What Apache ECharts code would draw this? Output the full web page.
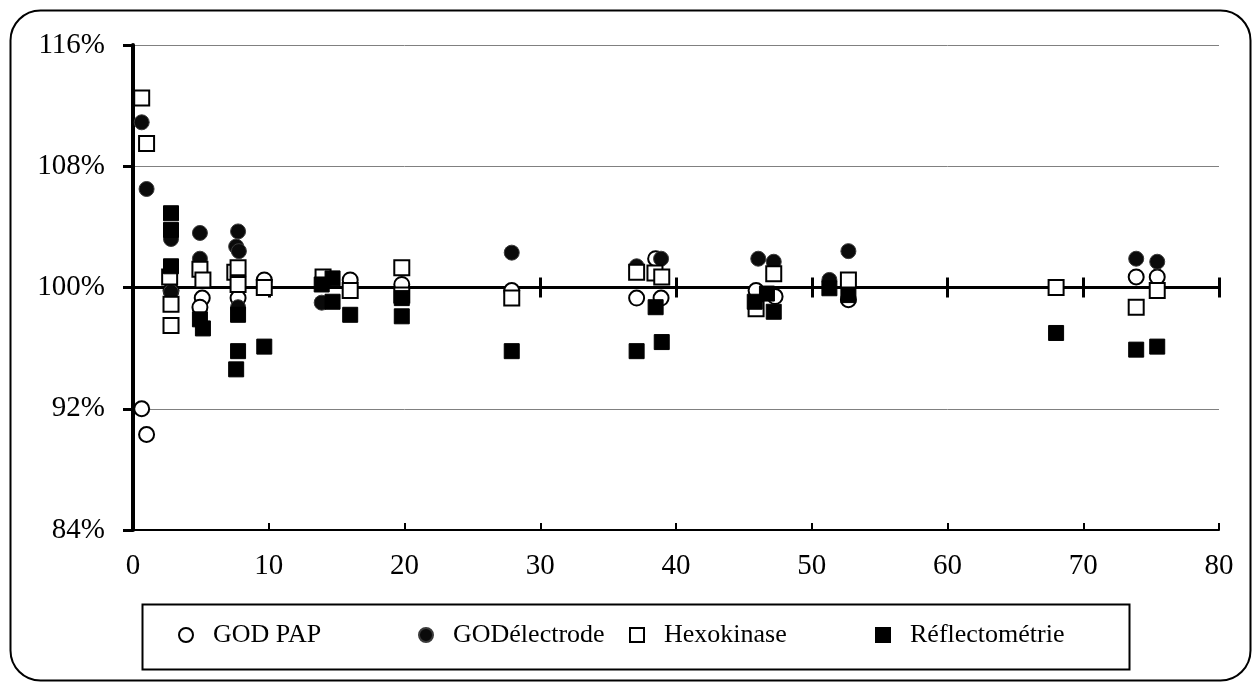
<!DOCTYPE html>
<html>
<head>
<meta charset="utf-8">
<script src="https://cdn.jsdelivr.net/npm/echarts@6/dist/echarts.min.js"></script>
<style>
  html, body { margin: 0; padding: 0; background: #fff; }
  #chart { width: 1257px; height: 687px; }
</style>
</head>
<body>
<div id="chart"></div>
<script>
// values: [x, ratio in %]
const godPap = [
  [0.64, 92.0], [1.0, 90.3], [2.8, 99.8], [5.1, 99.3], [4.93, 98.7],
  [7.74, 99.3], [9.67, 100.5], [16.0, 100.5], [19.8, 100.2], [27.9, 99.8],
  [37.1, 99.3], [38.5, 101.9], [38.9, 99.3], [45.9, 99.8], [47.3, 99.4],
  [52.7, 99.2], [73.9, 100.7], [75.45, 100.7]
];
const godElectrode = [
  [0.64, 110.9], [1.0, 106.5], [2.8, 103.2], [2.8, 99.7], [4.93, 103.6],
  [4.93, 101.9], [7.74, 103.7], [7.6, 102.7], [7.8, 102.4], [7.74, 98.7],
  [13.9, 99.0], [27.9, 102.3], [37.1, 101.4], [38.9, 101.9], [46.06, 101.9],
  [47.2, 101.7], [51.3, 100.5], [52.7, 102.4], [73.9, 101.9], [75.45, 101.7]
];
const hexokinase = [
  [0.64, 112.5], [1.0, 109.5], [2.7, 100.7], [2.8, 98.9], [2.8, 97.5],
  [4.93, 101.2], [5.15, 100.5], [7.5, 101.0], [7.74, 101.3], [7.74, 100.2],
  [9.67, 100.0], [14.0, 100.7], [16.0, 99.8], [19.8, 101.3], [19.8, 99.5],
  [27.9, 99.3], [37.1, 101.0], [38.45, 100.96], [38.95, 100.7], [45.9, 98.6],
  [47.2, 100.9], [52.7, 100.5], [68.0, 100.0], [73.9, 98.7], [75.45, 99.8]
];
const reflectometrie = [
  [2.8, 104.9], [2.8, 103.8], [2.8, 101.4], [4.93, 97.9], [5.15, 97.3],
  [7.74, 98.2], [7.74, 95.8], [7.6, 94.6], [9.67, 96.1], [14.7, 100.6],
  [13.9, 100.2], [14.7, 99.06], [16.0, 98.2], [19.8, 99.3], [19.8, 98.1],
  [27.9, 95.8], [37.1, 95.8], [38.5, 98.7], [38.95, 96.4], [45.8, 99.06],
  [46.7, 99.6], [47.2, 98.4], [51.3, 99.95], [52.7, 99.5], [68.0, 97.0],
  [73.9, 95.9], [75.45, 96.1]
];
const seriesNames = ['GOD PAP', 'GODélectrode', 'Hexokinase', 'Réflectométrie'];
const yTicks = [84, 92, 100, 108, 116];
const xTicks = [0, 10, 20, 30, 40, 50, 60, 70, 80];

// the x axis crosses at 100 %, so the y scale is drawn as offset from 100
const base = 100;
const shift = arr => arr.map(p => [p[0], p[1] - base]);

const font = 'Liberation Serif';
const square = 'path://M0,0L10,0L10,10L0,10Z';
const legendIcons = ['circle', 'circle', square, square];
// left edge of each legend entry, as in the original layout
const legendLeft = [178, 418, 629, 875];

const chart = echarts.init(document.getElementById('chart'));

const yCommon = {
  type: 'value',
  min: yTicks[0] - base,
  max: yTicks[yTicks.length - 1] - base,
  interval: yTicks[1] - yTicks[0]
};
const xCommon = {
  type: 'value',
  min: xTicks[0],
  max: xTicks[xTicks.length - 1],
  interval: xTicks[1] - xTicks[0]
};

// one legend per entry so each one can be placed on its own column
const legends = seriesNames.map((name, i) => ({
  left: legendLeft[i], top: 622,
  padding: 0,
  itemWidth: 14,
  itemHeight: 14,
  textStyle: {
    color: '#000', fontFamily: font, fontSize: 26,
    rich: { t: { padding: [0, 0, 0, 15], fontFamily: font, fontSize: 26, color: '#000' } }
  },
  formatter: n => '{t|' + n + '}',
  data: [{ name: name, icon: legendIcons[i] }]
}));

const option = {
  animation: false,
  backgroundColor: '#fff',
  grid: { left: 133, right: 38, top: 45, bottom: 157, containLabel: false },
  graphic: [
    {
      type: 'rect',
      left: 8, top: 8,
      shape: { width: 1240, height: 670, r: 30 },
      style: { fill: 'none', stroke: '#000', lineWidth: 2 },
      z: 0
    },
    {
      type: 'rect',
      left: 140, top: 602,
      shape: { width: 987, height: 65 },
      style: { fill: 'none', stroke: '#000', lineWidth: 2 },
      z: 0
    }
  ],
  xAxis: [
    {
      ...xCommon,
      axisLine: { onZero: false, lineStyle: { color: '#000', width: 2 } },
      axisTick: { inside: true, length: 7, lineStyle: { color: '#000', width: 2 } },
      axisLabel: { color: '#000', fontFamily: font, fontSize: 29, margin: 22 },
      splitLine: { show: false }
    },
    {
      ...xCommon,
      position: 'bottom',
      axisLine: { onZero: true, onZeroAxisIndex: 0, lineStyle: { color: '#000', width: 3 } },
      axisTick: { inside: false, length: 10, lineStyle: { color: '#000', width: 3 } },
      axisLabel: { show: false },
      splitLine: { show: false }
    },
    {
      ...xCommon,
      position: 'bottom',
      axisLine: { onZero: true, onZeroAxisIndex: 0, lineStyle: { color: '#000', width: 3 } },
      axisTick: { inside: true, length: 10, lineStyle: { color: '#000', width: 3 } },
      axisLabel: { show: false },
      splitLine: { show: false }
    }
  ],
  yAxis: [
    {
      ...yCommon,
      axisLine: { show: true, lineStyle: { color: '#000', width: 4 } },
      axisTick: { show: true, inside: false, length: 8, lineStyle: { color: '#000', width: 3 } },
      axisLabel: {
        color: '#000', fontFamily: font, fontSize: 29, margin: 28,
        formatter: v => (v + base) + '%'
      },
      splitLine: { show: true, lineStyle: { color: '#808080', width: 1 } }
    },
    {
      ...yCommon,
      axisLine: { show: false },
      axisTick: { show: true, inside: true, length: 10, lineStyle: { color: '#000', width: 3 } },
      axisLabel: { show: false },
      splitLine: { show: false }
    }
  ],
  legend: legends,
  series: [
    {
      name: seriesNames[0], type: 'scatter', data: shift(godPap),
      symbol: 'circle', symbolSize: 15,
      itemStyle: { color: '#fff', borderColor: '#000', borderWidth: 2, opacity: 1 }
    },
    {
      name: seriesNames[1], type: 'scatter', data: shift(godElectrode),
      symbol: 'circle', symbolSize: 15,
      itemStyle: { color: '#0a0a0a', borderColor: '#3a3a3a', borderWidth: 1, opacity: 1 }
    },
    {
      name: seriesNames[2], type: 'scatter', data: shift(hexokinase),
      symbol: 'rect', symbolSize: 15,
      itemStyle: { color: '#fff', borderColor: '#000', borderWidth: 2, opacity: 1 }
    },
    {
      name: seriesNames[3], type: 'scatter', data: shift(reflectometrie),
      symbol: 'rect', symbolSize: 15,
      itemStyle: { color: '#000', borderColor: '#000', borderWidth: 1, opacity: 1 }
    }
  ]
};

chart.setOption(option);
</script>
</body>
</html>
